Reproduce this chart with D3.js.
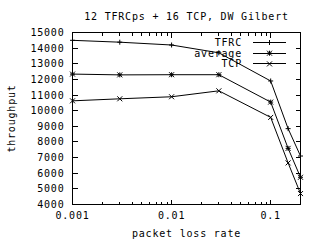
<!DOCTYPE html>
<html>
<head>
<meta charset="utf-8">
<script src="https://cdn.jsdelivr.net/npm/d3@7"></script>
<style>
  body { margin: 0; background: #fff; }
  text { font-family: "DejaVu Sans Mono", monospace; font-size: 10px; fill: #000; letter-spacing: 0.8px; }
</style>
</head>
<body>
<svg id="chart" width="320" height="240"></svg>
<script>
const lossRates = [0.001, 0.003, 0.01, 0.03, 0.1, 0.15, 0.2];
const tfrc = [14500, 14380, 14200, 13700, 11900, 8850, 7100];
const average = [12340, 12290, 12300, 12300, 10550, 7590, 5740];
const tcp = [10630, 10760, 10890, 11270, 9570, 6660, 4700];
const yTicks = [4000, 5000, 6000, 7000, 8000, 9000, 10000, 11000, 12000, 13000, 14000, 15000];
const xTicks = [0.001, 0.01, 0.1];

const series = [
  { name: "TFRC", values: tfrc, mark: "plus" },
  { name: "average", values: average, mark: "star" },
  { name: "TCP", values: tcp, mark: "cross" },
];

const margin = { top: 32.5, right: 19.5, bottom: 35.5, left: 72.5 };
const width = 320, height = 240;
const svg = d3.select("#chart");

const x = d3.scaleLog().domain([0.001, 0.2]).range([margin.left, width - margin.right]);
const y = d3.scaleLinear().domain([4000, 15000]).range([height - margin.bottom, margin.top]);

// minor ticks at 2..9 of each decade
const minor = [];
for (const dec of [0.001, 0.01, 0.1]) {
  for (let k = 2; k <= 9; k++) {
    const v = dec * k;
    if (v <= 0.2) minor.push(v);
  }
}

const g = svg.append("g").attr("shape-rendering", "crispEdges").attr("stroke", "#000");

// frame
g.append("rect")
  .attr("x", x.range()[0]).attr("y", y.range()[1])
  .attr("width", x.range()[1] - x.range()[0])
  .attr("height", y.range()[0] - y.range()[1])
  .attr("fill", "none");

// y ticks, left and right (inward)
g.selectAll(".yl").data(yTicks).enter().append("line")
  .attr("x1", x.range()[0]).attr("x2", x.range()[0] + 5)
  .attr("y1", d => y(d)).attr("y2", d => y(d));
g.selectAll(".yr").data(yTicks).enter().append("line")
  .attr("x1", x.range()[1]).attr("x2", x.range()[1] - 5)
  .attr("y1", d => y(d)).attr("y2", d => y(d));

// x ticks, bottom and top
const xt = xTicks.map(v => ({ v, len: 5 })).concat(minor.map(v => ({ v, len: 3 })));
g.selectAll(".xb").data(xt).enter().append("line")
  .attr("x1", d => x(d.v)).attr("x2", d => x(d.v))
  .attr("y1", y.range()[0]).attr("y2", d => y.range()[0] - d.len);
g.selectAll(".xt").data(xt).enter().append("line")
  .attr("x1", d => x(d.v)).attr("x2", d => x(d.v))
  .attr("y1", y.range()[1]).attr("y2", d => y.range()[1] + d.len);

// tick labels
svg.selectAll(".ylab").data(yTicks).enter().append("text")
  .attr("x", x.range()[0] - 8).attr("y", d => y(d))
  .attr("text-anchor", "end").attr("dominant-baseline", "central")
  .text(d => d);
svg.selectAll(".xlab").data(xTicks).enter().append("text")
  .attr("x", d => x(d)).attr("y", y.range()[0] + 11)
  .attr("text-anchor", "middle").attr("dominant-baseline", "central")
  .text(d => d);

// titles
const cx = (x.range()[0] + x.range()[1]) / 2;
svg.append("text").attr("x", cx).attr("y", 16)
  .attr("text-anchor", "middle").attr("dominant-baseline", "central")
  .text("12 TFRCps + 16 TCP, DW Gilbert");
svg.append("text").attr("x", cx).attr("y", 233)
  .attr("text-anchor", "middle").attr("dominant-baseline", "central")
  .text("packet loss rate");
svg.append("text")
  .attr("transform", `translate(11, ${(y.range()[0] + y.range()[1]) / 2}) rotate(-90)`)
  .attr("text-anchor", "middle").attr("dominant-baseline", "central")
  .text("throughput");

function marker(sel, kind, s) {
  const p = [];
  if (kind === "plus" || kind === "star") p.push(`M${-s},0H${s}M0,${-s}V${s}`);
  if (kind === "cross" || kind === "star") p.push(`M${-s},${-s}L${s},${s}M${-s},${s}L${s},${-s}`);
  sel.append("path").attr("d", p.join("")).attr("fill", "none").attr("stroke", "#000");
}

const line = d3.line().x(d => x(d[0])).y(d => y(d[1]));
const plot = svg.append("g");
series.forEach(s => {
  const pts = lossRates.map((r, i) => [r, s.values[i]]);
  plot.append("path").datum(pts).attr("d", line)
    .attr("fill", "none").attr("stroke", "#000").attr("stroke-width", 1);
  pts.forEach(p => {
    const m = plot.append("g").attr("transform", `translate(${x(p[0])},${y(p[1])})`);
    marker(m, s.mark, 2.5);
  });
});

// legend
const legend = svg.append("g");
series.forEach((s, i) => {
  const ly = 42.5 + i * 10.7;
  legend.append("text").attr("x", 242).attr("y", ly)
    .attr("text-anchor", "end").attr("dominant-baseline", "central").text(s.name);
  legend.append("line").attr("x1", 253).attr("x2", 286).attr("y1", ly).attr("y2", ly)
    .attr("stroke", "#000").attr("shape-rendering", "crispEdges");
  marker(legend.append("g").attr("transform", `translate(269.5,${ly})`), s.mark, 2.5);
});
</script>
</body>
</html>
